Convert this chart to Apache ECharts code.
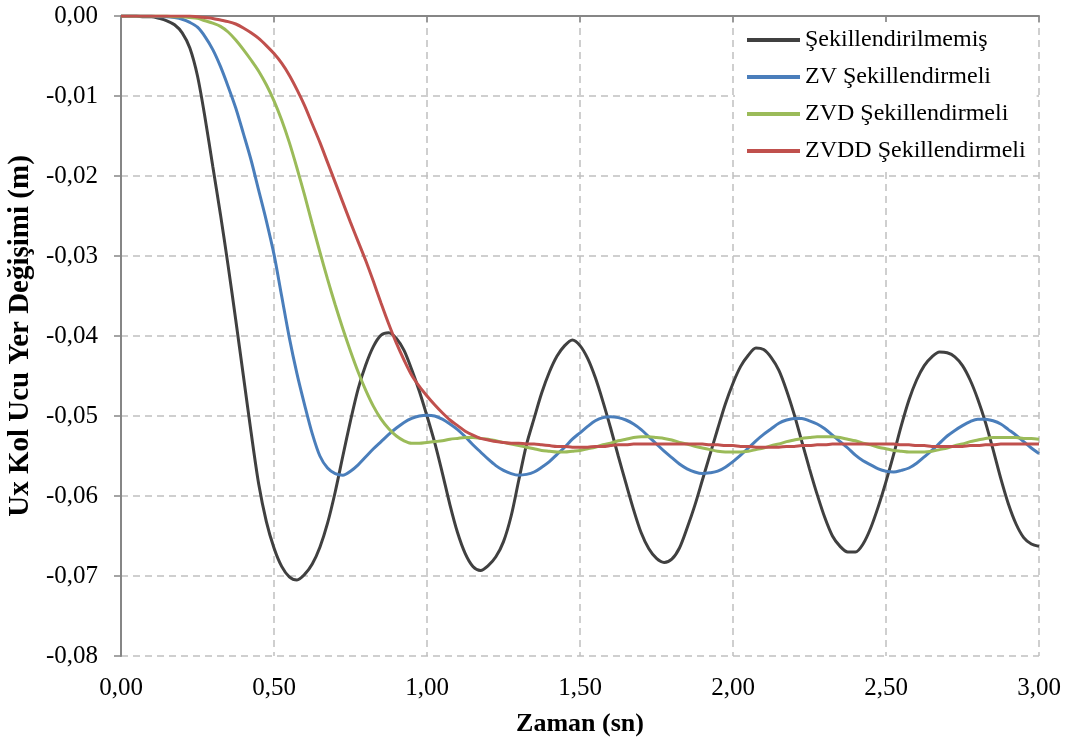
<!DOCTYPE html>
<html>
<head>
<meta charset="utf-8">
<script src="https://cdn.jsdelivr.net/npm/echarts@6/dist/echarts.min.js"></script>
<style>html,body{margin:0;padding:0;background:#fff}#c{width:1075px;height:742px}</style>
</head>
<body>
<div id="c"></div>
<script>
const times = [
0,0.025,0.05,0.075,0.1,0.125,0.15,0.175,0.2,0.225,
0.25,0.275,0.3,0.325,0.35,0.375,0.4,0.425,0.45,0.475,
0.5,0.525,0.55,0.575,0.6,0.625,0.65,0.675,0.7,0.725,
0.75,0.775,0.8,0.825,0.85,0.875,0.9,0.925,0.95,0.975,
1,1.025,1.05,1.075,1.1,1.125,1.15,1.175,1.2,1.225,
1.25,1.275,1.3,1.325,1.35,1.375,1.4,1.425,1.45,1.475,
1.5,1.525,1.55,1.575,1.6,1.625,1.65,1.675,1.7,1.725,
1.75,1.775,1.8,1.825,1.85,1.875,1.9,1.925,1.95,1.975,
2,2.025,2.05,2.075,2.1,2.125,2.15,2.175,2.2,2.225,
2.25,2.275,2.3,2.325,2.35,2.375,2.4,2.425,2.45,2.475,
2.5,2.525,2.55,2.575,2.6,2.625,2.65,2.675,2.7,2.725,
2.75,2.775,2.8,2.825,2.85,2.875,2.9,2.925,2.95,2.975,
3];
const unshaped = [
0,0,0,-0.0001,-0.0001,-0.0003,-0.0006,-0.0011,-0.0021,-0.0040,
-0.0075,-0.0128,-0.0188,-0.0248,-0.0312,-0.0380,-0.0450,-0.0520,-0.0585,-0.0632,
-0.0665,-0.0688,-0.0701,-0.0705,-0.0698,-0.0685,-0.0664,-0.0634,-0.0595,-0.0550,
-0.0506,-0.0466,-0.0436,-0.0413,-0.0399,-0.0396,-0.0403,-0.0418,-0.0442,-0.0469,
-0.0500,-0.0533,-0.0571,-0.0611,-0.0646,-0.0672,-0.0688,-0.0693,-0.0687,-0.0676,
-0.0657,-0.0625,-0.0580,-0.0536,-0.0503,-0.0471,-0.0445,-0.0425,-0.0412,-0.0405,
-0.0412,-0.0428,-0.0452,-0.0482,-0.0515,-0.0550,-0.0584,-0.0617,-0.0646,-0.0666,
-0.0678,-0.0683,-0.0679,-0.0665,-0.0640,-0.0612,-0.0580,-0.0548,-0.0516,-0.0485,
-0.0459,-0.0438,-0.0424,-0.0415,-0.0417,-0.0427,-0.0443,-0.0468,-0.0498,-0.0532,
-0.0566,-0.0598,-0.0627,-0.0650,-0.0663,-0.0670,-0.0670,-0.0660,-0.0640,-0.0613,
-0.0582,-0.0548,-0.0512,-0.0480,-0.0455,-0.0437,-0.0426,-0.0420,-0.0421,-0.0426,
-0.0437,-0.0455,-0.0479,-0.0508,-0.0542,-0.0578,-0.0610,-0.0635,-0.0652,-0.0660,
-0.0663];
const zv = [
0,0,0,0,0,-0.0001,-0.0001,-0.0002,-0.0004,-0.0008,
-0.0014,-0.0026,-0.0042,-0.0063,-0.0088,-0.0115,-0.0147,-0.0180,-0.0218,-0.0256,
-0.0298,-0.0350,-0.0402,-0.0447,-0.0486,-0.0522,-0.0550,-0.0565,-0.0572,-0.0574,
-0.0569,-0.0561,-0.0551,-0.0541,-0.0532,-0.0523,-0.0515,-0.0508,-0.0503,-0.0500,
-0.0499,-0.0500,-0.0504,-0.0510,-0.0517,-0.0526,-0.0536,-0.0545,-0.0554,-0.0562,
-0.0568,-0.0572,-0.0574,-0.0573,-0.0570,-0.0564,-0.0557,-0.0548,-0.0539,-0.0529,
-0.0521,-0.0513,-0.0506,-0.0502,-0.0501,-0.0502,-0.0505,-0.0510,-0.0517,-0.0526,
-0.0535,-0.0544,-0.0552,-0.0560,-0.0566,-0.0570,-0.0572,-0.0571,-0.0569,-0.0564,
-0.0557,-0.0549,-0.0540,-0.0531,-0.0523,-0.0516,-0.0509,-0.0505,-0.0503,-0.0503,
-0.0506,-0.0510,-0.0516,-0.0524,-0.0532,-0.0540,-0.0549,-0.0556,-0.0561,-0.0566,
-0.0569,-0.0570,-0.0568,-0.0565,-0.0559,-0.0551,-0.0543,-0.0534,-0.0525,-0.0518,
-0.0512,-0.0507,-0.0504,-0.0504,-0.0506,-0.0510,-0.0517,-0.0524,-0.0532,-0.0540,
-0.0547];
const zvd = [
0,0,0,0,0,0,0,-0.0001,-0.0001,-0.0002,
-0.0003,-0.0006,-0.0009,-0.0013,-0.0020,-0.0030,-0.0042,-0.0055,-0.0069,-0.0086,
-0.0106,-0.0130,-0.0158,-0.0190,-0.0224,-0.0260,-0.0295,-0.0329,-0.0361,-0.0391,
-0.0419,-0.0445,-0.0468,-0.0488,-0.0504,-0.0516,-0.0525,-0.0531,-0.0534,-0.0534,
-0.0533,-0.0532,-0.0531,-0.0529,-0.0528,-0.0527,-0.0527,-0.0528,-0.0529,-0.0531,
-0.0533,-0.0535,-0.0537,-0.0539,-0.0541,-0.0543,-0.0544,-0.0545,-0.0545,-0.0544,
-0.0543,-0.0541,-0.0539,-0.0536,-0.0534,-0.0531,-0.0529,-0.0527,-0.0526,-0.0526,
-0.0527,-0.0528,-0.0530,-0.0533,-0.0535,-0.0538,-0.0540,-0.0542,-0.0544,-0.0545,
-0.0545,-0.0545,-0.0544,-0.0542,-0.0540,-0.0537,-0.0535,-0.0532,-0.0530,-0.0528,
-0.0527,-0.0526,-0.0526,-0.0526,-0.0527,-0.0529,-0.0531,-0.0534,-0.0536,-0.0539,
-0.0541,-0.0543,-0.0544,-0.0545,-0.0545,-0.0545,-0.0544,-0.0542,-0.0540,-0.0537,
-0.0535,-0.0532,-0.0530,-0.0528,-0.0527,-0.0527,-0.0527,-0.0527,-0.0528,-0.0528,
-0.0529];
const zvdd = [
0,0,0,0,0,0,0,0,0,0,
-0.0001,-0.0002,-0.0003,-0.0005,-0.0007,-0.0010,-0.0015,-0.0021,-0.0028,-0.0037,
-0.0047,-0.0059,-0.0074,-0.0092,-0.0112,-0.0135,-0.0158,-0.0183,-0.0208,-0.0233,
-0.0258,-0.0282,-0.0306,-0.0332,-0.0359,-0.0385,-0.0409,-0.0430,-0.0449,-0.0463,
-0.0475,-0.0486,-0.0496,-0.0505,-0.0512,-0.0519,-0.0524,-0.0528,-0.0530,-0.0532,
-0.0533,-0.0534,-0.0534,-0.0535,-0.0535,-0.0536,-0.0537,-0.0538,-0.0538,-0.0539,
-0.0539,-0.0539,-0.0538,-0.0538,-0.0537,-0.0536,-0.0536,-0.0535,-0.0535,-0.0535,
-0.0535,-0.0535,-0.0535,-0.0535,-0.0535,-0.0535,-0.0535,-0.0536,-0.0536,-0.0537,
-0.0537,-0.0538,-0.0538,-0.0539,-0.0539,-0.0539,-0.0539,-0.0538,-0.0538,-0.0537,
-0.0537,-0.0536,-0.0536,-0.0535,-0.0535,-0.0535,-0.0535,-0.0535,-0.0535,-0.0535,
-0.0535,-0.0535,-0.0536,-0.0536,-0.0537,-0.0537,-0.0538,-0.0538,-0.0538,-0.0538,
-0.0538,-0.0537,-0.0537,-0.0536,-0.0536,-0.0535,-0.0535,-0.0535,-0.0535,-0.0535,
-0.0535];
const seriesNames = ['Şekillendirilmemiş','ZV Şekillendirmeli','ZVD Şekillendirmeli','ZVDD Şekillendirmeli'];
const seriesColors = ['#404040','#4A7EBB','#9BBB59','#C0504D'];
const xTitle = 'Zaman (sn)';
const yTitle = 'Ux Kol Ucu Yer Değişimi (m)';

const font = "'Liberation Serif','Times New Roman',serif";
const fmt = v => v.toFixed(2).replace('.', ',');
const allData = [unshaped, zv, zvd, zvdd];
const chart = echarts.init(document.getElementById('c'), null, {renderer:'canvas'});
chart.setOption({
  animation:false,
  backgroundColor:'#fff',
  grid:{left:121, top:16, right:36, bottom:86, containLabel:false, outerBoundsMode:'none'},
  legend:{
    orient:'vertical', left:735, top:22, itemWidth:53, itemHeight:4, itemGap:13,
    backgroundColor:'#fff', padding:[6,11,6,12],
    textStyle:{fontFamily:font, fontSize:24, color:'#000'},
    icon:'rect',
    data:seriesNames
  },
  xAxis:{
    type:'value', min:0, max:3, interval:0.5,
    name:xTitle, nameLocation:'middle', nameGap:55,
    nameTextStyle:{fontFamily:font, fontSize:26, fontWeight:'bold', color:'#000'},
    axisLine:{show:true, lineStyle:{color:'#868686', width:2}},
    axisTick:{show:true, length:6, lineStyle:{color:'#868686', width:1.5}},
    axisLabel:{fontFamily:font, fontSize:25, color:'#000', margin:20, formatter:fmt},
    splitLine:{show:true, lineStyle:{color:'#c0c0c0', type:[7,5], width:1.5}}
  },
  yAxis:{
    type:'value', min:-0.08, max:0, interval:0.01,
    name:yTitle, nameLocation:'middle', nameGap:84, nameRotate:90,
    nameTextStyle:{fontFamily:font, fontSize:29, fontWeight:'bold', color:'#000'},
    axisLine:{show:true, lineStyle:{color:'#868686', width:2}},
    axisTick:{show:true, length:7, lineStyle:{color:'#868686', width:1.5}},
    axisLabel:{fontFamily:font, fontSize:25, color:'#000', margin:23, formatter:fmt},
    splitLine:{show:true, lineStyle:{color:'#c0c0c0', type:[7,5], width:1.5}}
  },
  series: seriesNames.map((n,i)=>({
    name:n, type:'line', smooth:0.3, showSymbol:false, symbol:'none',
    data: times.map((t,j)=>[t, allData[i][j]]),
    lineStyle:{color:seriesColors[i], width:3},
    itemStyle:{color:seriesColors[i]}
  }))
});
</script>
</body>
</html>
